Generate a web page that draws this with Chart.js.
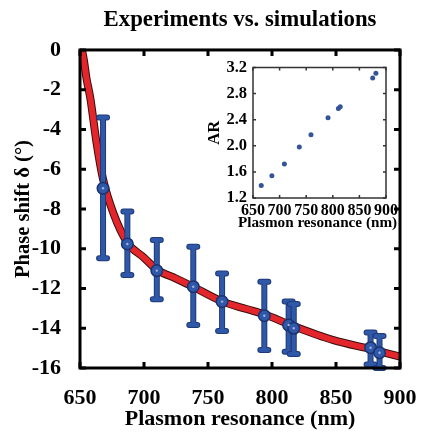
<!DOCTYPE html>
<html>
<head>
<meta charset="utf-8">
<script src="https://cdn.jsdelivr.net/npm/chart.js@4/dist/chart.umd.min.js"></script>
<style>
  body { margin: 0; background: #fff; }
  #wrap { position: relative; width: 422px; height: 433px; }
  #mainChart { position: absolute; left: 0; top: 0; }
  #insetChart { position: absolute; left: 200px; top: 55px; }
</style>
</head>
<body>
<div id="wrap">
  <canvas id="mainChart" width="422" height="433"></canvas>
  <canvas id="insetChart" width="205" height="180"></canvas>
</div>
<script>
// measured points (plasmon resonance, nm)
const expX = [668, 687, 710, 738.5, 761, 794, 813, 817, 877, 884];
const expY = [-6.96, -9.76, -11.1, -11.91, -12.66, -13.37, -13.84, -14.0, -14.98, -15.23];
const errHi = [-3.4, -8.13, -9.56, -9.9, -11.24, -11.66, -12.66, -12.78, -14.22, -14.39];
const errLo = [-10.48, -11.32, -12.54, -13.84, -14.14, -15.09, -15.18, -15.3, -15.82, -16.0];

// simulation curve
const simX = [651.5, 653, 655, 658, 663, 668, 676, 687, 700, 710, 725, 738, 761, 780, 794, 817, 848, 877, 900];
const simY = [0, -0.5, -1.4, -2.4, -4.7, -6.5, -8.2, -9.7, -10.45, -11.05, -11.5, -11.9, -12.65, -13.03, -13.3, -13.9, -14.6, -15.05, -15.43];

// inset: aspect ratio vs resonance
const arX = [665.5, 685.5, 709, 737, 759, 791, 810.5, 814, 875, 881];
const arY = [1.39, 1.54, 1.72, 1.98, 2.17, 2.43, 2.57, 2.60, 3.04, 3.11];

const serif = "'Liberation Serif', 'Times New Roman', serif";

// box round the plot with ticks pointing inwards on all four sides
const framePlugin = {
  id: 'frame',
  afterDatasetsDraw(chart, args, opts) {
    const { ctx, chartArea: a, scales: { x, y } } = chart;
    ctx.save();
    ctx.strokeStyle = opts.color;
    ctx.lineWidth = opts.tickWidth;
    ctx.beginPath();
    x.ticks.forEach(t => {
      const px = x.getPixelForValue(t.value);
      ctx.moveTo(px, a.bottom); ctx.lineTo(px, a.bottom - opts.tickLen);
      ctx.moveTo(px, a.top); ctx.lineTo(px, a.top + opts.tickLen);
    });
    y.ticks.forEach(t => {
      const py = y.getPixelForValue(t.value);
      ctx.moveTo(a.left, py); ctx.lineTo(a.left + opts.tickLen, py);
      ctx.moveTo(a.right, py); ctx.lineTo(a.right - opts.tickLen, py);
    });
    ctx.stroke();
    ctx.lineWidth = opts.width;
    ctx.strokeRect(a.left, a.top, a.right - a.left, a.bottom - a.top);
    ctx.restore();
  }
};

// error bars drawn just before the marker dataset
const errorBarPlugin = {
  id: 'errbars',
  beforeDatasetDraw(chart, args) {
    if (args.index !== 0) return;
    const { ctx, scales: { x, y } } = chart;
    ctx.save();
    ctx.lineCap = 'round';
    expX.forEach((v, i) => {
      const px = x.getPixelForValue(v);
      const top = y.getPixelForValue(errHi[i]);
      const bot = y.getPixelForValue(errLo[i]);
      [['#1f3a78', 6], ['#2f58a8', 4]].forEach(([col, w]) => {
        ctx.strokeStyle = col;
        ctx.lineWidth = w;
        ctx.beginPath();
        ctx.moveTo(px, top); ctx.lineTo(px, bot);
        ctx.moveTo(px - 4, top); ctx.lineTo(px + 4, top);
        ctx.moveTo(px - 4, bot); ctx.lineTo(px + 4, bot);
        ctx.stroke();
      });
    });
    ctx.restore();
  },
  afterDatasetDraw(chart, args) {
    if (args.index !== 0) return;
    const { ctx } = chart;
    ctx.save();
    ctx.fillStyle = '#9fb4dc';
    args.meta.data.forEach(pt => {
      ctx.beginPath();
      ctx.arc(pt.x, pt.y, 1.2, 0, Math.PI * 2);
      ctx.fill();
    });
    ctx.restore();
  }
};

// inset x title is wider than the little plot, so Chart.js would squeeze it
const insetTitlePlugin = {
  id: 'insetTitle',
  afterDraw(chart, args, opts) {
    const { ctx, chartArea: a } = chart;
    ctx.save();
    ctx.font = 'bold 15.2px ' + serif;
    ctx.fillStyle = '#000';
    ctx.textAlign = 'center';
    ctx.textBaseline = 'middle';
    ctx.fillText(opts.text, (a.left + a.right) / 2 - 2, opts.y);
    ctx.restore();
  }
};

const mainCtx = document.getElementById('mainChart').getContext('2d');
new Chart(mainCtx, {
  type: 'scatter',
  data: {
    datasets: [
      {
        label: 'Experiments',
        data: expX.map((v, i) => ({ x: v, y: expY[i] })),
        pointRadius: 5.8,
        pointBackgroundColor: '#2f58a8',
        pointBorderColor: '#1a3270',
        pointBorderWidth: 1.5,
        clip: false
      },
      {
        label: 'Simulations',
        type: 'line',
        data: simX.map((v, i) => ({ x: v, y: simY[i] })),
        borderColor: '#e3262b',
        borderWidth: 6,
        pointRadius: 0,
        cubicInterpolationMode: 'monotone'
      },
      {
        label: 'outline',
        type: 'line',
        data: simX.map((v, i) => ({ x: v, y: simY[i] })),
        borderColor: '#3a0c0c',
        borderWidth: 8,
        pointRadius: 0,
        cubicInterpolationMode: 'monotone'
      }
    ]
  },
  options: {
    responsive: false,
    animation: false,
    layout: { padding: { left: 0, right: 22, top: 0, bottom: 0 } },
    plugins: {
      legend: { display: false },
      tooltip: { enabled: false },
      title: {
        display: true,
        fullSize: false,
        text: 'Experiments vs. simulations',
        color: '#000',
        font: { family: serif, size: 22.8, weight: 'bold' },
        padding: { top: 6.3, bottom: 16.3 }
      },
      frame: { color: '#000', width: 3, tickWidth: 3, tickLen: 6 }
    },
    scales: {
      x: {
        type: 'linear',
        min: 650,
        max: 900,
        afterFit: s => { s.height = 65; },
        grid: { display: false, drawTicks: true, tickLength: 17 },
        border: { display: false },
        ticks: { stepSize: 50, color: '#000', padding: 0, font: { family: serif, size: 22, weight: 'bold' } },
        title: {
          display: true,
          text: 'Plasmon resonance (nm)',
          color: '#000',
          font: { family: serif, size: 22, weight: 'bold' },
          padding: { top: 0, bottom: 0 }
        }
      },
      y: {
        min: -16,
        max: 0,
        afterFit: s => { s.width = 80; },
        grid: { display: false, drawTicks: true, tickLength: 19 },
        border: { display: false },
        ticks: { stepSize: 2, color: '#000', padding: 0, font: { family: serif, size: 22, weight: 'bold' } },
        title: {
          display: true,
          text: 'Phase shift δ (°)',
          color: '#000',
          font: { family: serif, size: 20.5, weight: 'bold' },
          padding: { top: 11, bottom: 0 }
        }
      }
    }
  },
  plugins: [framePlugin, errorBarPlugin]
});

const insetCtx = document.getElementById('insetChart').getContext('2d');
new Chart(insetCtx, {
  type: 'scatter',
  data: {
    datasets: [{
      label: 'AR',
      data: arX.map((v, i) => ({ x: v, y: arY[i] })),
      pointRadius: 2.5,
      pointBackgroundColor: '#34549a',
      pointBorderWidth: 0
    }]
  },
  options: {
    responsive: false,
    animation: false,
    layout: { padding: { left: 0, right: 19, top: 12.5, bottom: 0 } },
    plugins: {
      legend: { display: false },
      tooltip: { enabled: false },
      frame: { color: '#333', width: 1.5, tickWidth: 1.5, tickLen: 3 },
      insetTitle: { text: 'Plasmon resonance (nm)', y: 168.5 }
    },
    scales: {
      x: {
        type: 'linear',
        min: 650,
        max: 900,
        afterFit: s => { s.height = 37; },
        grid: { display: false, drawTicks: true, tickLength: 3 },
        border: { display: false },
        ticks: { stepSize: 50, color: '#000', padding: 0, autoSkip: false, maxRotation: 0, font: { family: serif, size: 16, weight: 'bold' } }
      },
      y: {
        min: 1.2,
        max: 3.2,
        afterFit: s => { s.width = 53; },
        grid: { display: false, drawTicks: true, tickLength: 6 },
        border: { display: false },
        ticks: { stepSize: 0.4, color: '#000', padding: 0, font: { family: serif, size: 16.5, weight: 'bold' },
          callback: v => v.toFixed(1) },
        title: {
          display: true,
          text: 'AR',
          color: '#000',
          font: { family: serif, size: 16.5, weight: 'bold' },
          padding: { top: 5, bottom: 0 }
        }
      }
    }
  },
  plugins: [framePlugin, insetTitlePlugin]
});
</script>
</body>
</html>
